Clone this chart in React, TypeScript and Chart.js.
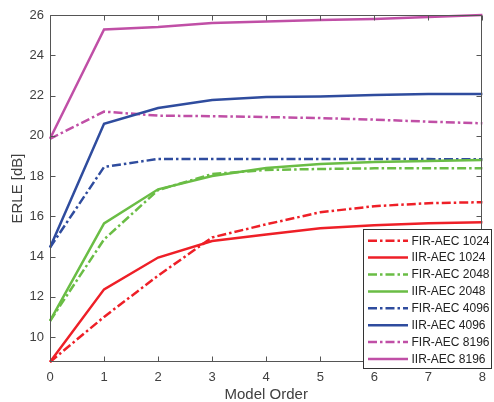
import React, { useEffect, useRef } from "react";
import { Chart, registerables } from "chart.js";

Chart.register(...registerables);

const modelOrders = [0, 1, 2, 3, 4, 5, 6, 7, 8];
const yTickValues = [10, 12, 14, 16, 18, 20, 22, 24, 26];

const fir1024 = [8.76, 11.0, 13.05, 14.95, 15.6, 16.2, 16.5, 16.65, 16.7];
const iir1024 = [8.76, 12.37, 13.95, 14.77, 15.1, 15.4, 15.55, 15.65, 15.7];
const fir2048 = [10.8, 14.85, 17.3, 18.1, 18.3, 18.35, 18.38, 18.38, 18.38];
const iir2048 = [10.8, 15.65, 17.34, 18.0, 18.4, 18.6, 18.7, 18.75, 18.8];
const fir4096 = [14.45, 18.45, 18.85, 18.85, 18.85, 18.85, 18.85, 18.84, 18.83];
const iir4096 = [14.45, 20.6, 21.38, 21.78, 21.93, 21.95, 22.02, 22.07, 22.08];
const fir8196 = [19.85, 21.2, 21.0, 20.97, 20.93, 20.88, 20.8, 20.7, 20.62];
const iir8196 = [19.85, 25.28, 25.4, 25.6, 25.68, 25.75, 25.8, 25.9, 26.0];

const RED = "#ee1f27";
const GREEN = "#6abd45";
const BLUE = "#2f4c9e";
const PINK = "#c04fa6";
const DASHDOT = [9, 3, 2.5, 3];
const FONT = "'Liberation Sans', Arial, Helvetica, sans-serif";
const TXT = "#404040";

function ds(label: string, values: number[], color: string, dashed: boolean) {
  return {
    label,
    data: modelOrders.map((x, i) => ({ x, y: values[i] })),
    borderColor: color,
    backgroundColor: color,
    borderWidth: 2.5,
    borderDash: dashed ? DASHDOT : [],
    pointRadius: 0,
    tension: 0,
    fill: false,
    clip: false as any,
  };
}

function drawFrame(chart: any) {
  const { ctx, chartArea: a, scales } = chart;
  ctx.save();
  ctx.setLineDash([]);
  ctx.strokeStyle = "#555555";
  ctx.lineWidth = 1;
  const l = Math.round(a.left) + 0.5;
  const r = Math.round(a.right) - 0.5;
  const t = Math.round(a.top) + 0.5;
  const b = Math.round(a.bottom) - 0.5;
  ctx.beginPath();
  ctx.rect(l, t, r - l, b - t);
  const L = 5;
  modelOrders.forEach((v) => {
    const px = Math.round(scales.x.getPixelForValue(v)) + 0.5;
    ctx.moveTo(px, b);
    ctx.lineTo(px, b - L);
    ctx.moveTo(px, t);
    ctx.lineTo(px, t + L);
  });
  yTickValues.forEach((v) => {
    const py = Math.round(scales.y.getPixelForValue(v)) + 0.5;
    ctx.moveTo(l, py);
    ctx.lineTo(l + L, py);
    ctx.moveTo(r, py);
    ctx.lineTo(r - L, py);
  });
  ctx.stroke();
  ctx.restore();
}

function drawLegend(chart: any) {
  const { ctx } = chart;
  const x0 = 363.5, y0 = 229.5, w = 128, h = 139;
  ctx.save();
  ctx.fillStyle = "#ffffff";
  ctx.fillRect(x0, y0, w, h);
  ctx.strokeStyle = "#333333";
  ctx.lineWidth = 1;
  ctx.setLineDash([]);
  ctx.strokeRect(x0, y0, w, h);
  ctx.font = `12px ${FONT}`;
  ctx.textBaseline = "middle";
  ctx.textAlign = "left";
  chart.data.datasets.forEach((d: any, i: number) => {
    const y = 240.7 + i * 16.9;
    ctx.strokeStyle = d.borderColor;
    ctx.lineWidth = 2.5;
    ctx.setLineDash(d.borderDash || []);
    ctx.beginPath();
    ctx.moveTo(368, y);
    ctx.lineTo(408, y);
    ctx.stroke();
    ctx.setLineDash([]);
    ctx.fillStyle = "#222222";
    ctx.fillText(d.label, 411.5, y + 0.5);
  });
  ctx.restore();
}

const overlayPlugin = {
  id: "frameAndLegend",
  afterDraw(chart: any) {
    drawFrame(chart);
    drawLegend(chart);
  },
};

export default function App() {
  const ref = useRef<HTMLCanvasElement | null>(null);
  useEffect(() => {
    document.body.style.margin = "0";
    const canvas = ref.current!;
    const chart = new Chart(canvas, {
      type: "line",
      data: {
        datasets: [
          ds("FIR-AEC 1024", fir1024, RED, true),
          ds("IIR-AEC 1024", iir1024, RED, false),
          ds("FIR-AEC 2048", fir2048, GREEN, true),
          ds("IIR-AEC 2048", iir2048, GREEN, false),
          ds("FIR-AEC 4096", fir4096, BLUE, true),
          ds("IIR-AEC 4096", iir4096, BLUE, false),
          ds("FIR-AEC 8196", fir8196, PINK, true),
          ds("IIR-AEC 8196", iir8196, PINK, false),
        ] as any,
      },
      options: {
        animation: false,
        responsive: false,
        devicePixelRatio: 1,
        layout: { padding: { top: 15, right: 4, left: 0, bottom: 0 } },
        plugins: { legend: { display: false }, tooltip: { enabled: false } },
        scales: {
          x: {
            type: "linear",
            min: 0,
            max: 8,
            grid: { display: false, drawTicks: false, tickLength: 0 },
            border: { display: false },
            afterBuildTicks: (s: any) => {
              s.ticks = modelOrders.map((v) => ({ value: v }));
            },
            afterFit: (s: any) => {
              s.height = 40;
            },
            ticks: {
              color: TXT,
              font: { family: FONT, size: 13 },
              padding: 8,
              maxRotation: 0,
              autoSkip: false,
            },
            title: {
              display: true,
              text: "Model Order",
              color: TXT,
              font: { family: FONT, size: 15, lineHeight: 1 },
              padding: { top: 0, bottom: 0 },
            },
          },
          y: {
            type: "linear",
            min: 8.76,
            max: 26,
            grid: { display: false, drawTicks: false, tickLength: 0 },
            border: { display: false },
            afterBuildTicks: (s: any) => {
              s.ticks = yTickValues.map((v) => ({ value: v }));
            },
            afterFit: (s: any) => {
              s.width = 50;
            },
            ticks: {
              color: TXT,
              font: { family: FONT, size: 13 },
              padding: 6,
              autoSkip: false,
            },
            title: {
              display: true,
              text: "ERLE [dB]",
              color: TXT,
              font: { family: FONT, size: 15, lineHeight: 1 },
              padding: { top: 10, bottom: 0 },
            },
          },
        },
      },
      plugins: [overlayPlugin],
    });
    return () => chart.destroy();
  }, []);
  return (
    <div style={{ position: "absolute", left: 0, top: 0, width: 494, height: 402 }}>
      <canvas ref={ref} width={494} height={402} style={{ width: 494, height: 402, display: "block" }} />
    </div>
  );
}
